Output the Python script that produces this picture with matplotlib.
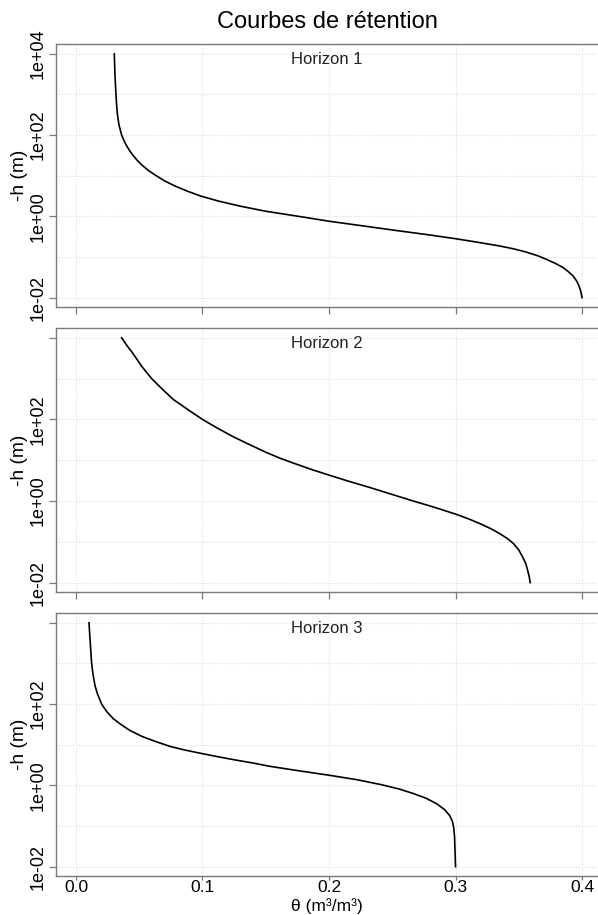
import matplotlib
matplotlib.use('Agg')
import matplotlib.pyplot as plt
import numpy as np

plt.rcParams['font.family'] = ['Liberation Sans', 'DejaVu Sans']

# values: log10(-h) and theta for each horizon
logh_1 = [4.0, 3.5, 3.0, 2.75, 2.5, 2.25, 2.0, 1.875, 1.75, 1.625, 1.5, 1.375, 1.25,
          1.125, 1.0, 0.875, 0.75, 0.625, 0.5, 0.375, 0.25, 0.125, 0.0, -0.12, -0.24,
          -0.36, -0.46, -0.55, -0.64, -0.73, -0.80, -0.88, -0.97, -1.06, -1.16, -1.26,
          -1.37, -1.47, -1.59, -1.71, -1.85, -2.0]
theta_1 = [0.0303, 0.0308, 0.0316, 0.0321, 0.0328, 0.0340, 0.0361, 0.0378, 0.0398, 0.0422,
           0.0451, 0.0485, 0.0526, 0.0574, 0.0634, 0.0699, 0.0780, 0.0876, 0.0985, 0.1127,
           0.1300, 0.1500, 0.1760, 0.2000, 0.2280, 0.2560, 0.2800, 0.3000, 0.3180, 0.3350,
           0.3460, 0.3560, 0.3650, 0.3720, 0.3790, 0.3850, 0.3895, 0.3930, 0.3957, 0.3976,
           0.3990, 0.4000]

logh_2 = [4.0, 3.8, 3.64, 3.3, 3.0, 2.75, 2.49, 2.25, 2.0, 1.8, 1.58, 1.4, 1.19, 1.05,
          0.93, 0.78, 0.64, 0.48, 0.33, 0.16, 0.0, -0.16, -0.32, -0.44, -0.55, -0.68,
          -0.80, -0.92, -1.04, -1.2, -1.37, -1.53, -1.70, -1.85, -2.0]
theta_2 = [0.0361, 0.0405, 0.0445, 0.0520, 0.0598, 0.0680, 0.0769, 0.0880, 0.1000, 0.1110,
           0.1240, 0.1360, 0.1505, 0.1612, 0.1718, 0.1855, 0.1995, 0.2160, 0.2324, 0.2500,
           0.2666, 0.2840, 0.3000, 0.3105, 0.3190, 0.3280, 0.3350, 0.3410, 0.3457, 0.3500,
           0.3530, 0.3555, 0.3570, 0.3582, 0.3590]

logh_3 = [4.0, 3.7, 3.37, 3.0, 2.75, 2.46, 2.25, 2.0, 1.82, 1.64, 1.5, 1.35, 1.2, 1.07,
          0.96, 0.87, 0.78, 0.70, 0.62, 0.55, 0.47, 0.36, 0.25, 0.14, 0.02, -0.09, -0.20,
          -0.32, -0.45, -0.60, -0.74, -0.88, -1.03, -1.25, -1.52, -2.0]
theta_3 = [0.0103, 0.0109, 0.0116, 0.0124, 0.0134, 0.0150, 0.0170, 0.0203, 0.0242, 0.0295,
           0.0355, 0.0427, 0.0525, 0.0638, 0.0743, 0.0860, 0.1000, 0.1130, 0.1269, 0.1400,
           0.1530, 0.1760, 0.2000, 0.2220, 0.2410, 0.2555, 0.2666, 0.2770, 0.2850, 0.2915,
           0.2953, 0.2975, 0.2985, 0.2992, 0.2995, 0.3000]

horizons = ['Horizon 1', 'Horizon 2', 'Horizon 3']
yticks = [1e-2, 1e0, 1e2, 1e4]
ytick_labels = ['1e-02', '1e+00', '1e+02', '1e+04']
xticks = [0.0, 0.1, 0.2, 0.3, 0.4]
xtick_labels = ['0.0', '0.1', '0.2', '0.3', '0.4']

frame = '#7a7a7a'
grid = '#dcdcdc'

fig = plt.figure(figsize=(5.98, 9.15), dpi=100)
boxes = [[0.0936, 0.6645, 0.9064, 0.2874],
         [0.0936, 0.3530, 0.9064, 0.2885],
         [0.0936, 0.0426, 0.9064, 0.2874]]
series = [(theta_1, logh_1), (theta_2, logh_2), (theta_3, logh_3)]

for i in range(3):
    ax = fig.add_axes(boxes[i])
    th, lh = series[i]
    ax.plot(th, 10.0 ** np.array(lh), color='black', lw=1.2, zorder=3,
            solid_joinstyle='round')
    ax.set_yscale('log')
    ax.set_xlim(-0.0158, 0.4126)
    ax.set_ylim(10 ** -2.23, 10 ** 4.24)

    # dotted grid: every decade and every 0.1
    for d in range(-2, 5):
        ax.axhline(10.0 ** d, color=grid, lw=0.8, ls=(0, (1, 1.5)), zorder=1)
    for x in xticks:
        ax.axvline(x, color=grid, lw=0.8, ls=(0, (1, 1.5)), zorder=1)

    ax.set_yticks(yticks)
    labs = list(ytick_labels)
    if i > 0:
        labs[-1] = ''
    ax.set_yticklabels(labs, rotation=90, va='center', fontsize=13)
    ax.yaxis.set_minor_locator(matplotlib.ticker.NullLocator())
    ax.set_xticks(xticks)
    ax.tick_params(axis='y', direction='out', length=5, width=0.9, color=frame, pad=2)
    if i == 2:
        ax.set_xticklabels(xtick_labels, fontsize=12.5)
        ax.tick_params(axis='x', direction='out', length=3, width=0.9, color=frame, pad=0)
    else:
        ax.set_xticklabels([])
        ax.tick_params(axis='x', direction='out', length=5, width=0.9, color=frame)

    for s in ['top', 'left', 'bottom']:
        ax.spines[s].set_color(frame)
        ax.spines[s].set_linewidth(1.0)
    ax.spines['right'].set_visible(False)

    ax.set_ylabel('-h (m)', fontsize=13.8, labelpad=1)
    ax.text(0.5, 0.97, horizons[i], transform=ax.transAxes, ha='center', va='top',
            fontsize=12, color='#222222')

fig.text(0.5468, 0.976, 'Courbes de rétention', ha='center', va='center', fontsize=17)
fig.text(0.5468, 0.001, 'θ (m³/m³)', ha='center', va='bottom', fontsize=12.5)

fig.savefig('out.png', dpi=100)
